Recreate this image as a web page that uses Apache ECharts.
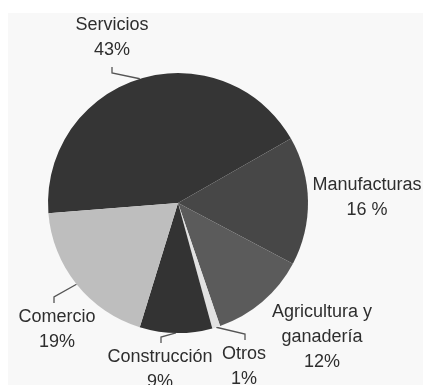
<!DOCTYPE html>
<html>
<head>
<meta charset="utf-8">
<script src="https://cdn.jsdelivr.net/npm/echarts@6/dist/echarts.min.js"></script>
<style>
html,body{margin:0;padding:0;background:#fff;}
#bg{position:absolute;left:8px;top:13px;width:415px;height:372px;background:#f8f8f8;}
#chart{position:absolute;left:0;top:0;width:423px;height:385px;}
</style>
</head>
<body>
<div id="bg"></div>
<div id="chart"></div>
<script>
// Data
var categories = ['Servicios', 'Manufacturas', 'Agricultura y ganadería', 'Otros', 'Construcción', 'Comercio'];
var displayNames = ['Servicios', 'Manufacturas', 'Agricultura y\nganadería', 'Otros', 'Construcción', 'Comercio'];
var values = [43, 16, 12, 1, 9, 19];
var percentLabels = ['43%', '16 %', '12%', '1%', '9%', '19%'];

// Styles / layout (not data)
var colors = ['#353535', '#474747', '#5b5b5b', '#e2e2e2', '#333333', '#bebebe'];
var labelCenters = [[112, 38], [367, 198], [322, 337], [244, 367], [160, 370], [57, 330]];
var showLine = [true, false, false, true, true, true];

var chart = echarts.init(document.getElementById('chart'), null, {renderer: 'canvas'});

var seriesData = categories.map(function (c, i) {
  return {
    name: c,
    value: values[i],
    itemStyle: {color: colors[i]},
    labelLine: {show: showLine[i]}
  };
});

chart.setOption({
  backgroundColor: 'transparent',
  animation: false,
  series: [{
    type: 'pie',
    center: [178, 203],
    radius: [0, 130],
    startAngle: 184.5,
    clockwise: true,
    data: seriesData,
    itemStyle: {borderWidth: 0},
    label: {
      show: true,
      position: 'outside',
      overflow: 'none',
      width: 200,
      formatter: function (p) {
        return displayNames[p.dataIndex] + '\n' + percentLabels[p.dataIndex];
      },
      fontFamily: 'Liberation Sans, Arial, sans-serif',
      fontSize: 18,
      lineHeight: 25,
      color: '#2e2e2e',
      align: 'center'
    },
    labelLine: {
      show: true,
      length: 10,
      length2: 10,
      lineStyle: {color: '#555', width: 1.3}
    },
    labelLayout: function (params) {
      var i = params.dataIndex;
      var c = labelCenters[i];
      var out = {x: c[0], y: c[1], align: 'center', verticalAlign: 'middle'};
      if (showLine[i] && params.labelLinePoints) {
        var p0 = params.labelLinePoints[0];
        var h = params.labelRect.height;
        var above = c[1] < p0[1];
        var endY = above ? c[1] + h / 2 + 4 : c[1] - h / 2 - 2;
        var elbowY = above ? endY + 6 : endY - 6;
        var endX = c[0] + (i === 5 ? -3 : (i === 4 ? 1 : (i === 3 ? 1 : 0)));
        out.labelLinePoints = [p0, [endX, elbowY], [endX, endY]];
      }
      return out;
    }
  }]
});
</script>
</body>
</html>
